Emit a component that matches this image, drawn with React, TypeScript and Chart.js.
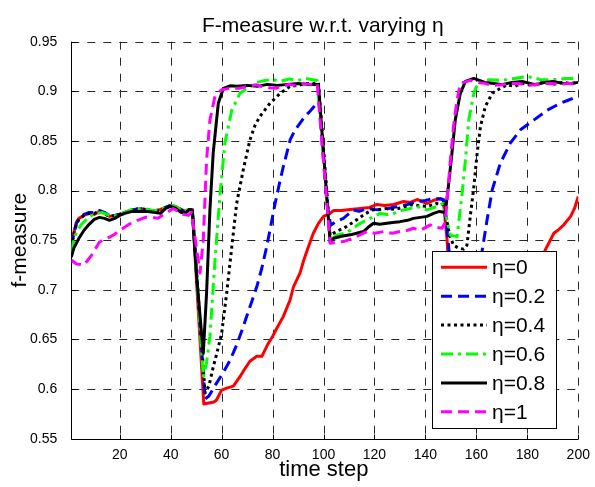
import React, { useEffect, useRef } from 'react';
import { Chart, registerables } from 'chart.js';

Chart.register(...registerables);

// ---------- axis ticks ----------
const xTicks = [20, 40, 60, 80, 100, 120, 140, 160, 180, 200];
const yTicks = [0.55, 0.6, 0.65, 0.7, 0.75, 0.8, 0.85, 0.9, 0.95];
const yTickLabels = ['0.55', '0.6', '0.65', '0.7', '0.75', '0.8', '0.85', '0.9', '0.95'];

const chartTitle = 'F-measure w.r.t. varying η';
const xAxisTitle = 'time step';
const yAxisTitle = 'f-measure';
const seriesLabels = ['η=0', 'η=0.2', 'η=0.4', 'η=0.6', 'η=0.8', 'η=1'];

// ---------- series (time step, f-measure) ----------
const eta0X = [1, 2, 3, 4, 6, 8, 10, 12, 14, 16, 18, 20, 22, 24, 26, 28, 30, 32, 34, 36, 38, 40, 42, 44, 46, 47, 48.5,
  53, 55, 57, 58, 60, 62, 64.6, 67.2, 69, 71.1, 73.8, 75.8, 78.3, 80, 81.6, 84.2, 86.9, 88.2, 90.8, 92, 94, 96, 98, 100,
  102.6, 104, 107, 110.5, 114.4, 118, 121, 124, 127.5, 131.4, 134, 136.7, 140.6, 143, 145.8, 147,
  148.5, 150, 152, 154, 157, 160, 164, 168, 172, 176, 180, 184, 187, 190.4, 192, 194.3, 197, 198.5, 200];
const eta0Y = [0.745, 0.758, 0.768, 0.772, 0.775, 0.777, 0.776, 0.779, 0.777, 0.774, 0.775, 0.776, 0.778, 0.78, 0.781, 0.782, 0.781, 0.78, 0.78, 0.781, 0.783, 0.785, 0.784, 0.781, 0.779, 0.781, 0.781,
  0.585, 0.586, 0.587, 0.589, 0.599, 0.601, 0.603, 0.6125, 0.62, 0.628, 0.633, 0.633, 0.646, 0.653, 0.661, 0.673, 0.69, 0.703, 0.717, 0.728, 0.743, 0.757, 0.767, 0.774,
  0.777, 0.78, 0.78, 0.781, 0.782, 0.783, 0.786, 0.785, 0.786, 0.789, 0.788, 0.791, 0.787, 0.79, 0.792, 0.791,
  0.75, 0.68, 0.6, 0.59, 0.595, 0.61, 0.63, 0.65, 0.67, 0.69, 0.705, 0.722, 0.74, 0.757, 0.76, 0.7655, 0.774, 0.782, 0.794];

const eta02X = [1, 2, 3, 4, 6, 8, 10, 12, 14, 16, 18, 20, 22, 24, 26, 28, 30, 32, 34, 36, 38, 40, 42, 44, 46, 47, 48.5,
  53.5, 55, 58, 60.5, 63.3, 66, 68.5, 71, 73.8, 75.8, 77.7, 79.5, 81, 82.6, 84.2, 86.9, 88.8, 90.8, 92.8, 94.7, 97.4, 98.2,
  100, 101.5, 102.8, 105, 107.8, 111.7, 114, 117, 120, 123.6, 127, 130, 133, 136.7, 140, 143.2, 147,
  148.5, 150, 152, 154, 156, 158, 160, 162.2, 164.2, 166.2, 169.4, 173.3, 177.3, 182.5, 187.8, 193, 196, 200];
const eta02Y = [0.744, 0.757, 0.767, 0.772, 0.776, 0.778, 0.778, 0.78, 0.778, 0.775, 0.775, 0.776, 0.778, 0.779, 0.781, 0.782, 0.782, 0.78, 0.779, 0.781, 0.783, 0.785, 0.784, 0.781, 0.778, 0.78, 0.78,
  0.59, 0.593, 0.606, 0.616, 0.629, 0.645, 0.663, 0.682, 0.703, 0.722, 0.7435, 0.767, 0.787, 0.806, 0.824, 0.851, 0.861, 0.868, 0.875, 0.88, 0.888, 0.89,
  0.83, 0.785, 0.765, 0.769, 0.772, 0.7805, 0.779, 0.782, 0.781, 0.7805, 0.783, 0.784, 0.786, 0.789, 0.79, 0.7923, 0.791,
  0.76, 0.72, 0.66, 0.63, 0.635, 0.66, 0.695, 0.7385, 0.7705, 0.8007, 0.8276, 0.8478, 0.8612, 0.871, 0.881, 0.888, 0.891, 0.895];

const eta04X = [1, 2, 3, 4, 6, 8, 10, 12, 14, 16, 18, 20, 22, 24, 26, 28, 30, 32, 34, 36, 38, 40, 42, 44, 46, 47, 48.5,
  53.5, 55, 56.7, 58.5, 60, 62, 64, 65.9, 68.5, 71.1, 73, 75, 79, 83, 86.9, 90, 93.4, 96, 98,
  102.6, 105, 109, 113, 116, 119, 122, 125, 128, 131, 134, 137, 140.6, 144.5, 147,
  148, 149.5, 151, 153, 155, 156.3, 157.6, 159, 160.3, 161.6, 163.5, 166.2, 169.4, 172, 175, 178, 182, 186, 190, 194, 197, 200];
const eta04Y = [0.743, 0.756, 0.766, 0.771, 0.775, 0.777, 0.777, 0.779, 0.777, 0.774, 0.775, 0.776, 0.778, 0.78, 0.781, 0.782, 0.781, 0.78, 0.78, 0.78, 0.783, 0.785, 0.783, 0.78, 0.778, 0.78, 0.78,
  0.596, 0.603, 0.622, 0.64, 0.656, 0.697, 0.7435, 0.787, 0.821, 0.851, 0.865, 0.8746, 0.888, 0.898, 0.905, 0.906, 0.908, 0.908, 0.909,
  0.755, 0.7586, 0.7637, 0.7705, 0.776, 0.7805, 0.781, 0.782, 0.781, 0.783, 0.7856, 0.785, 0.784, 0.787, 0.786,
  0.775, 0.755, 0.745, 0.742, 0.741, 0.745, 0.774, 0.804, 0.8377, 0.8645, 0.8847, 0.898, 0.903, 0.9066, 0.905, 0.908, 0.906, 0.909, 0.907, 0.909, 0.908, 0.909];

const eta06X = [1, 2, 3, 5, 7, 9, 11, 13, 15, 17, 19, 21, 23, 25, 27, 29, 31, 33, 35, 37, 39, 41, 43, 45, 47, 48.5,
  52.8, 54, 55.4, 57.4, 59.4, 61.3, 64, 67.2, 71.1, 74, 77, 80, 83, 86.5, 90, 93, 97.5,
  102.6, 105.2, 108, 110.5, 114.4, 118.3, 122.2, 125, 127.5, 131.4, 134, 136.7, 140.6, 144.5, 147,
  149.8, 152.4, 154.4, 155.7, 157, 159, 160.9, 165, 170, 175, 180, 185, 190, 195, 200];
const eta06Y = [0.738, 0.75, 0.758, 0.766, 0.771, 0.775, 0.777, 0.778, 0.776, 0.774, 0.775, 0.777, 0.779, 0.781, 0.782, 0.782, 0.781, 0.78, 0.78, 0.782, 0.784, 0.785, 0.782, 0.779, 0.781, 0.78,
  0.612, 0.625, 0.653, 0.73, 0.797, 0.848, 0.881, 0.898, 0.905, 0.909, 0.911, 0.912, 0.91, 0.9125, 0.911, 0.913, 0.911,
  0.75, 0.755, 0.757, 0.76, 0.767, 0.772, 0.777, 0.776, 0.777, 0.7805, 0.782, 0.784, 0.7805, 0.784, 0.787,
  0.755, 0.7536, 0.797, 0.831, 0.871, 0.898, 0.91, 0.9116, 0.911, 0.913, 0.915, 0.912, 0.9116, 0.913, 0.913];

const eta08X = [1, 2, 4, 6, 8, 10, 12, 14, 16, 18, 20, 22, 25, 28, 31, 34, 36, 38, 40, 42, 44, 46, 47.5, 48.5,
  50.2, 52.8, 54.1, 55.4, 56.7, 58.7, 60.7, 63.3, 66, 70, 74, 78, 82, 86, 90, 94, 98,
  102.6, 104, 107, 110.5, 113, 115.7, 117.5, 119.6, 122, 124.9, 128, 130, 133, 135.3, 138, 140.6, 143.2, 145.5, 147.8,
  149, 150.4, 151.7, 153.7, 155.7, 159, 163.3, 167, 170, 174, 178, 183, 187, 190, 194, 197.5, 200];
const eta08Y = [0.733, 0.742, 0.752, 0.76, 0.766, 0.771, 0.773, 0.772, 0.77, 0.772, 0.775, 0.777, 0.779, 0.779, 0.779, 0.778, 0.777, 0.782, 0.784, 0.782, 0.778, 0.778, 0.781, 0.78,
  0.713, 0.636, 0.697, 0.78, 0.838, 0.888, 0.903, 0.9055, 0.905, 0.906, 0.905, 0.907, 0.906, 0.907, 0.908, 0.907, 0.907,
  0.748, 0.752, 0.754, 0.7554, 0.757, 0.7587, 0.763, 0.767, 0.766, 0.767, 0.768, 0.7687, 0.77, 0.772, 0.773, 0.774, 0.777, 0.779, 0.778,
  0.804, 0.8377, 0.871, 0.898, 0.91, 0.913, 0.909, 0.908, 0.9066, 0.909, 0.91, 0.9066, 0.909, 0.91, 0.908, 0.908, 0.909];

const eta1X = [1, 3, 6, 9, 12, 14, 16, 18, 20, 22.5, 25, 28, 30, 33, 35, 38, 41, 43, 45, 47, 48.2,
  51.5, 52.8, 54.1, 55.4, 57.4, 60, 63, 67, 70, 73.6, 77, 81, 84, 86.5, 89, 91.8, 95, 97.5,
  102.6, 105, 107.8, 111.7, 114, 117, 120, 123.6, 127, 130, 133, 135.3, 138, 141.9, 144, 146.5, 147.8,
  148.5, 149.8, 151, 152.4, 153.7, 157.6, 160, 163.3, 166, 170, 173, 176.5, 180, 183, 186, 189.6, 193, 196, 198.8, 200];
const eta1Y = [0.73, 0.726, 0.725, 0.735, 0.748, 0.751, 0.753, 0.756, 0.76, 0.764, 0.768, 0.771, 0.773, 0.773, 0.772, 0.777, 0.782, 0.779, 0.776, 0.775, 0.778,
  0.717, 0.75, 0.831, 0.871, 0.895, 0.9015, 0.903, 0.903, 0.905, 0.9066, 0.904, 0.903, 0.905, 0.907, 0.906, 0.908, 0.907, 0.908,
  0.747, 0.748, 0.7486, 0.752, 0.755, 0.7587, 0.757, 0.7587, 0.757, 0.7587, 0.76, 0.762, 0.76, 0.7654, 0.763, 0.762, 0.768,
  0.7906, 0.831, 0.8645, 0.891, 0.908, 0.911, 0.909, 0.908, 0.906, 0.9066, 0.908, 0.908, 0.906, 0.9066, 0.908, 0.908, 0.907, 0.908, 0.9075, 0.907];

const seriesX = [eta0X, eta02X, eta04X, eta06X, eta08X, eta1X];
const seriesY = [eta0Y, eta02Y, eta04Y, eta06Y, eta08Y, eta1Y];

// ---------- styles ----------
const STYLES = [
  { color: '#ff0000', dash: [] as number[] },
  { color: '#0000ff', dash: [11, 6] },
  { color: '#000000', dash: [3, 3.5] },
  { color: '#00ff00', dash: [12, 5, 3, 5] },
  { color: '#000000', dash: [] as number[] },
  { color: '#ff00ff', dash: [11, 6] },
];
const LINE_W = 3;
const FONT = '"Liberation Sans", Arial, Helvetica, sans-serif';

const W = 595;
const H = 487;
const AREA = { left: 71.3, right: 578.3, top: 41.7, bottom: 438.7 };
const LEGEND = { left: 432, top: 251, right: 556, bottom: 428 };

const decorPlugin = {
  id: 'matlabDecor',
  beforeDatasetsDraw(chart: any) {
    const { ctx, chartArea, scales } = chart;
    const xs = scales.x;
    const ys = scales.y;
    ctx.save();
    ctx.strokeStyle = '#2a2a2a';
    ctx.lineWidth = 1;
    ctx.setLineDash([8, 8]);
    xTicks.forEach((v) => {
      const px = Math.round(xs.getPixelForValue(v)) + 0.5;
      ctx.beginPath();
      ctx.moveTo(px, chartArea.top);
      ctx.lineTo(px, chartArea.bottom);
      ctx.stroke();
    });
    yTicks.forEach((v, i) => {
      if (i === 0) return;
      const py = Math.round(ys.getPixelForValue(v)) + 0.5;
      ctx.beginPath();
      ctx.moveTo(chartArea.left, py);
      ctx.lineTo(chartArea.right, py);
      ctx.stroke();
    });
    ctx.setLineDash([]);
    ctx.strokeStyle = '#000';
    const lx = Math.round(chartArea.left) + 0.5;
    const by = Math.round(chartArea.bottom) + 0.5;
    ctx.beginPath();
    ctx.moveTo(lx, chartArea.top);
    ctx.lineTo(lx, by);
    ctx.lineTo(chartArea.right, by);
    ctx.stroke();
    xTicks.forEach((v) => {
      const px = Math.round(xs.getPixelForValue(v)) + 0.5;
      ctx.beginPath();
      ctx.moveTo(px, by);
      ctx.lineTo(px, by - 5);
      ctx.stroke();
    });
    yTicks.forEach((v) => {
      const py = Math.round(ys.getPixelForValue(v)) + 0.5;
      ctx.beginPath();
      ctx.moveTo(lx, py);
      ctx.lineTo(lx + 5, py);
      ctx.stroke();
    });
    ctx.restore();
  },
  afterDraw(chart: any) {
    const { ctx, chartArea } = chart;
    ctx.save();
    ctx.fillStyle = '#000';
    const cx = (chartArea.left + chartArea.right) / 2;
    ctx.font = `21px ${FONT}`;
    ctx.textAlign = 'center';
    ctx.textBaseline = 'alphabetic';
    ctx.fillText(chartTitle, cx - 2, 32);
    ctx.font = `22px ${FONT}`;
    ctx.fillText(xAxisTitle, cx - 1, 476);
    ctx.save();
    ctx.font = `21px ${FONT}`;
    ctx.translate(26, (chartArea.top + chartArea.bottom) / 2);
    ctx.rotate(-Math.PI / 2);
    ctx.fillText(yAxisTitle, 0, 0);
    ctx.restore();

    // legend
    ctx.fillStyle = '#fff';
    ctx.fillRect(LEGEND.left, LEGEND.top, LEGEND.right - LEGEND.left, LEGEND.bottom - LEGEND.top);
    ctx.strokeStyle = '#000';
    ctx.lineWidth = 1;
    ctx.strokeRect(LEGEND.left + 0.5, LEGEND.top + 0.5, LEGEND.right - LEGEND.left, LEGEND.bottom - LEGEND.top);
    const step = 28.9;
    seriesLabels.forEach((lab, i) => {
      const y = LEGEND.top + 16.3 + i * step;
      ctx.save();
      ctx.strokeStyle = STYLES[i].color;
      ctx.lineWidth = LINE_W;
      ctx.setLineDash(STYLES[i].dash);
      ctx.beginPath();
      ctx.moveTo(LEGEND.left + 9, y);
      ctx.lineTo(LEGEND.left + 55, y);
      ctx.stroke();
      ctx.restore();
      ctx.fillStyle = '#000';
      ctx.font = `21px ${FONT}`;
      ctx.textAlign = 'left';
      ctx.textBaseline = 'middle';
      ctx.fillText(lab, LEGEND.left + 60, y + 1);
    });
    ctx.restore();
  },
};

export default function App() {
  const ref = useRef<HTMLCanvasElement | null>(null);
  useEffect(() => {
    document.body.style.margin = '0';
    const canvas = ref.current;
    if (!canvas) return;
    const datasets = seriesLabels.map((label, i) => ({
      label,
      data: seriesX[i].map((x, j) => ({ x, y: seriesY[i][j] })),
      borderColor: STYLES[i].color,
      backgroundColor: STYLES[i].color,
      borderWidth: LINE_W,
      borderDash: STYLES[i].dash,
      borderCapStyle: 'butt',
      borderJoinStyle: 'round',
      pointRadius: 0,
      tension: 0,
      fill: false,
      order: 6 - i,
    }));
    const chart = new Chart(canvas, {
      type: 'line',
      data: { datasets } as any,
      options: {
        animation: false,
        responsive: false,
        devicePixelRatio: 1,
        layout: { padding: { top: AREA.top, right: W - AREA.right, left: 0, bottom: 0 } },
        plugins: {
          legend: { display: false },
          title: { display: false },
          tooltip: { enabled: false },
        },
        elements: { point: { radius: 0 } },
        scales: {
          x: {
            type: 'linear',
            min: 1,
            max: 200,
            grid: { display: false },
            border: { display: false },
            afterBuildTicks: (s: any) => {
              s.ticks = xTicks.map((v) => ({ value: v }));
            },
            afterFit: (s: any) => {
              s.height = H - AREA.bottom;
            },
            ticks: {
              padding: 0,
              color: '#000',
              font: { family: FONT, size: 14 },
              maxRotation: 0,
              autoSkip: false,
              callback: (v: any) => String(v),
            },
          },
          y: {
            type: 'linear',
            min: 0.55,
            max: 0.95,
            grid: { display: false },
            border: { display: false },
            afterBuildTicks: (s: any) => {
              s.ticks = yTicks.map((v) => ({ value: v }));
            },
            afterFit: (s: any) => {
              s.width = AREA.left;
            },
            ticks: {
              padding: 6,
              color: '#000',
              font: { family: FONT, size: 14 },
              autoSkip: false,
              callback: (v: any) => {
                const k = yTicks.findIndex((t) => Math.abs(t - Number(v)) < 1e-6);
                return k >= 0 ? yTickLabels[k] : '';
              },
            },
          },
        },
      } as any,
      plugins: [decorPlugin],
    });
    return () => chart.destroy();
  }, []);
  return (
    <div style={{ width: W, height: H, position: 'relative', background: '#fff' }}>
      <canvas ref={ref} width={W} height={H} style={{ display: 'block' }} />
    </div>
  );
}
